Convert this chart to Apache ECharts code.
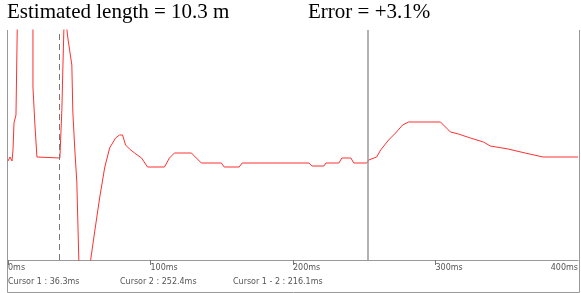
<!DOCTYPE html>
<html><head><meta charset="utf-8">
<script src="https://cdn.jsdelivr.net/npm/echarts@6/dist/echarts.min.js"></script>
<style>html,body{margin:0;padding:0;background:#fff}#c{width:581px;height:293px}</style>
</head><body><div id="c"></div>
<script>
// time (ms) and signal amplitude (arbitrary units, baseline ~0)
const timeMs = [0,1.4,2.8,3.5,4.2,5.6,7,17.5,17.5,18.9,20.3,21,36.4,37.8,38.5,39.2,40.6,42,44.8,45.5,46.9,48.3,49.7,50.3,56.6,58,60.8,64.3,67.8,71.3,75.5,78.3,80.4,82.5,85.3,88.8,93.7,97.9,109.8,113.3,116.8,128.7,132.2,135.7,149.7,151.7,162.2,164.3,211.2,213.3,221.7,223.1,232.2,234.3,240.6,242.7,251.7,253.1,258.7,261.5,267.1,272,276.9,281.1,303.5,305.6,310.5,316.1,324.5,333.6,338.5,351,362.9,375.5,400];
const amplitude = [-1,3,-1,10,37,45,180,180,73,35,3,2,2,50,92,130,140,122,95,48,10,-22,-100,-130,-130,-100,-72,-38,-8,12,22,25,25,15,11,7,2,-7,-7,2,7,7,2,-3,-3,-7,-7,-3,-3,-6,-6,-3,-3,2,2,-3,-3,0,3,10,20,27,35,38,38,35,28,26,22,18,14,11,7,3,3];
const xTicks = [0,100,200,300,400];
const tickUnit = 'ms';
const cursor1 = 36.3, cursor2 = 252.4;
const titleText = 'Estimated length = 10.3 m';
const errorText = 'Error = +3.1%';
const cursorTexts = ['Cursor 1 : 36.3ms','Cursor 2 : 252.4ms','Cursor 1 - 2 : 216.1ms'];

const chart = echarts.init(document.getElementById('c'), null, {renderer:'canvas'});
const data = timeMs.map((t,i)=>[t, amplitude[i]]);
const lblFont = {fontFamily:'DejaVu Sans', fontSize:8, color:'#555'};
chart.setOption({
  animation:false,
  grid:{left:8, right:2, top:30, bottom:33},
  xAxis:[{
    type:'value', min:0, max:400, interval:100,
    axisLine:{show:true, onZero:false, lineStyle:{color:'#999', width:1}},
    axisTick:{show:true, length:5, lineStyle:{color:'#777'}},
    axisLabel:Object.assign({align:'left', margin:4, showMaxLabel:false,
      formatter:v=> xTicks.includes(v) ? v + tickUnit : ''}, lblFont),
    splitLine:{show:false}
  },{
    type:'value', min:0, max:400, interval:100, position:'bottom',
    axisLine:{show:false, onZero:false}, axisTick:{show:false},
    axisLabel:Object.assign({align:'right', margin:4, showMinLabel:false,
      formatter:v=> v===400 ? v + tickUnit : ''}, lblFont),
    splitLine:{show:false}
  }],
  yAxis:{type:'value', min:-100, max:130, show:false},
  graphic:[
    {type:'text', left:7, top:2, style:{text:titleText, font:'21px "Liberation Serif"', fill:'#000'}},
    {type:'text', left:308, top:2, style:{text:errorText, font:'21px "Liberation Serif"', fill:'#000'}},
    {type:'polyline', shape:{points:[[7.5,30],[7.5,292.5],[579.5,292.5],[579.5,30]]}, style:{stroke:'#999', fill:null, lineWidth:1}, silent:true},
    {type:'text', left:8, top:278, style:{text:cursorTexts[0], font:'8px "DejaVu Sans"', fill:'#555'}},
    {type:'text', left:120, top:278, style:{text:cursorTexts[1], font:'8px "DejaVu Sans"', fill:'#555'}},
    {type:'text', left:233, top:278, style:{text:cursorTexts[2], font:'8px "DejaVu Sans"', fill:'#555'}}
  ],
  series:[{
    type:'line', data:data, showSymbol:false, clip:true,
    lineStyle:{color:'#ff3030', width:1},
    markLine:{
      silent:true, symbol:'none', label:{show:false},
      data:[
        {xAxis:cursor1, lineStyle:{color:'#777', type:[6,4], width:1}},
        {xAxis:cursor2, lineStyle:{color:'#999', type:'solid', width:1.5}}
      ]
    }
  }]
});
</script></body></html>
